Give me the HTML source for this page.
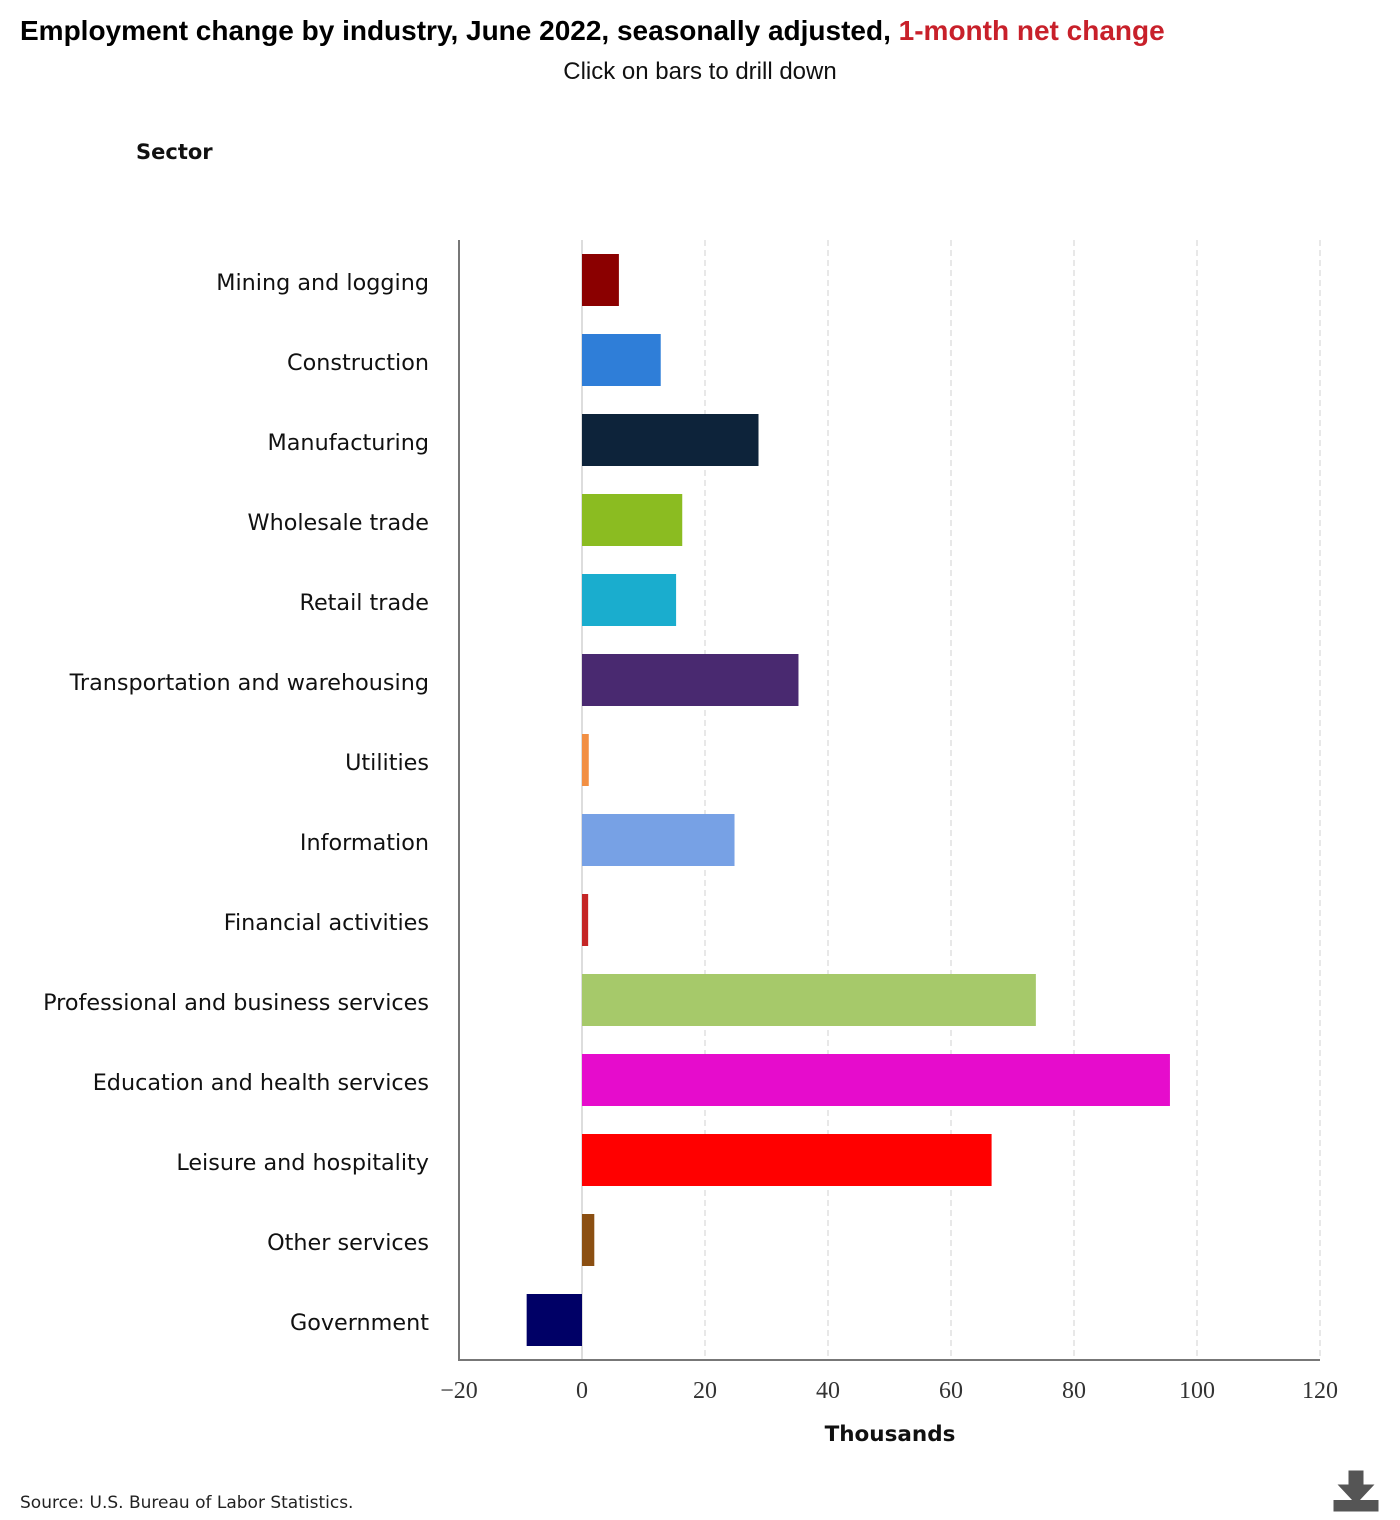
<!DOCTYPE html>
<html><head><meta charset="utf-8"><style>
body{margin:0;background:#fff;width:1400px;height:1520px;overflow:hidden;font-family:"Liberation Sans",sans-serif;}
#title{position:absolute;left:20px;top:15px;font-size:28px;font-weight:bold;color:#000;white-space:nowrap}
#title span{color:#c8202a}
#sub{position:absolute;left:0;width:1400px;top:58px;text-align:center;font-size:24px;color:#111}
#source{position:absolute;left:20px;top:1493px;font-size:17px;color:#222;font-family:"DejaVu Sans",sans-serif}
</style></head><body>
<div id="title">Employment change by industry, June 2022, seasonally adjusted, <span>1-month net change</span></div>
<div id="sub">Click on bars to drill down</div>
<svg id="chart" width="1400" height="1520" style="position:absolute;left:0;top:0"></svg>
<div id="source">Source: U.S. Bureau of Labor Statistics.</div>
<script>
const categories=["Mining and logging","Construction","Manufacturing","Wholesale trade","Retail trade","Transportation and warehousing","Utilities","Information","Financial activities","Professional and business services","Education and health services","Leisure and hospitality","Other services","Government"];
const values=[6,12.8,28.7,16.3,15.3,35.2,1.1,24.8,1,73.8,95.6,66.6,2,-9];
const colors=["#8b0000","#2f7ed8","#0d233a","#8bbc21","#1aadce","#492970","#f28f43","#77a1e5","#c42525","#a6c96a","#e60ccc","#ff0000","#8b4f12","#000066"];
const ticks=[-20,0,20,40,60,80,100,120];
const NS="http://www.w3.org/2000/svg";
const svg=document.getElementById('chart');
const L=459,R=1320,T=240,B=1360,xmin=-20,xmax=120;
const x=v=>L+(v-xmin)/(xmax-xmin)*(R-L);
const band=(B-T)/categories.length;
const y=i=>T+i*band;
function mk(tag,a){const e=document.createElementNS(NS,tag);for(const k in a)e.setAttribute(k,a[k]);svg.appendChild(e);return e;}
ticks.forEach(t=>{
 if(t>xmin){const g=mk('line',{x1:x(t),x2:x(t),y1:T,y2:B,stroke:t===0?'#bbb':'#d0d0d0','stroke-dasharray':t===0?'':'6,4'});
 
 }
 const tl=mk('text',{x:x(t),y:1398,'text-anchor':'middle','font-size':24,fill:'#333','font-family':'Liberation Serif, serif'});
 tl.textContent=(t<0?'\u2212'+(-t):t);
 
 
});
categories.forEach((c,i)=>{
 const v=values[i];const x0=x(Math.min(0,v)),x1=x(Math.max(0,v));
 const r=mk('rect',{x:x0,y:y(i)+14,width:Math.max(1,x1-x0),height:band-28,fill:colors[i]});
 
 
 const t=mk('text',{x:429,y:y(i)+band/2+10,'text-anchor':'end',fill:'#111','font-family':'DejaVu Sans, sans-serif','font-size':22.3});
 t.textContent=c;
 
 
});
const ya=mk('line',{x1:L,x2:L,y1:T,y2:B+1,stroke:'#777','stroke-width':2});


const xa=mk('line',{x1:L,x2:R,y1:B,y2:B,stroke:'#777','stroke-width':2});


const yt=mk('text',{x:136,y:159,'font-size':21,'font-weight':'bold',fill:'#111','font-family':'DejaVu Sans, sans-serif'});
yt.textContent='Sector';


const xt=mk('text',{x:890,y:1441,'text-anchor':'middle','font-size':21.5,'font-weight':'bold',fill:'#111','font-family':'DejaVu Sans, sans-serif'});
xt.textContent='Thousands';


const dl=mk('path',{d:'M1350 1472h12v14h9l-15 16l-15-16h9z M1335 1500v10h42v-10',fill:'#555',stroke:'#555','stroke-width':3});


</script>
</body></html>
